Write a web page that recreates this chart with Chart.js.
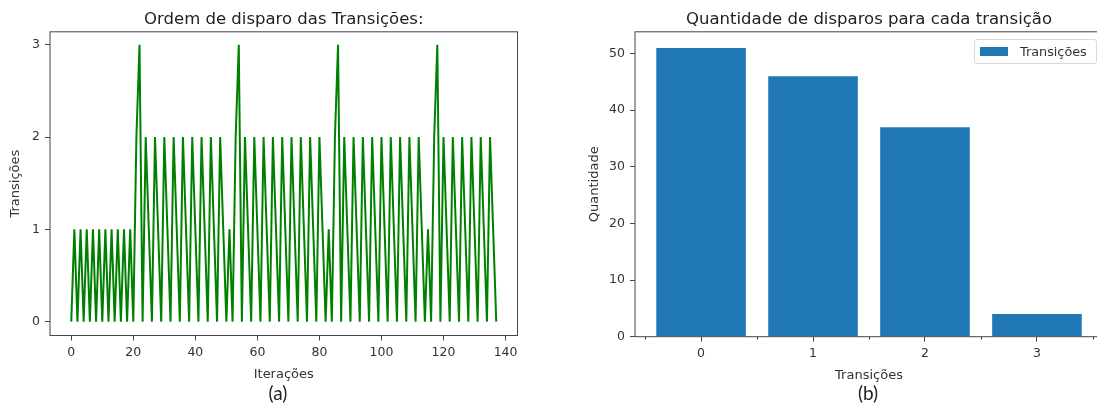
<!DOCTYPE html>
<html lang="pt">
<head>
<meta charset="UTF-8">
<title>Disparo das Transições</title>
<script src="https://cdn.jsdelivr.net/npm/chart.js"></script>
<style>
  html, body { margin: 0; padding: 0; background: #fff; overflow: hidden; }
  body { position: relative; width: 1097px; height: 406px; font-family: "DejaVu Sans", sans-serif; }
  canvas { position: absolute; top: 0; }
  #chartA { left: 0; }
  #chartB { left: 548px; }
  .caption {
    position: absolute; top: 392px; transform: translate(-50%, -50%);
    font-family: Lato, sans-serif; font-size: 19px; color: #222;
  }
  .legend {
    position: absolute; left: 974px; top: 39px; width: 123px; height: 25px;
    box-sizing: border-box; border: 1px solid #d9d9d9; border-radius: 3px;
    background: rgba(255,255,255,0.8); font-size: 12.8px; color: #333;
  }
  .legend .swatch { position: absolute; left: 5px; top: 7px; width: 28px; height: 9px; background: #1f77b4; }
  .legend .label { position: absolute; left: 45px; top: 4px; white-space: nowrap; }
</style>
</head>
<body>
  <canvas id="chartA" width="540" height="406"></canvas>
  <canvas id="chartB" width="570" height="406"></canvas>
  <div class="caption" style="left:278px">(a)</div>
  <div class="caption" style="left:868px">(b)</div>
  <div class="legend"><span class="swatch"></span><span class="label">Transições</span></div>

<script>
// (a) transição disparada em cada iteração
const firingOrder = [
  0, 1, 0, 1, 0, 1, 0, 1, 0, 1, 0, 1, 0, 1, 0, 1, 0, 1, 0, 1, 0,
  2, 3, 0,
  2, 1, 0, 2, 1, 0, 2, 1, 0, 2, 1, 0, 2, 1, 0, 2, 1, 0, 2, 1, 0, 2, 1, 0, 2, 1, 0,
  1, 0, 2, 3, 0,
  2, 1, 0, 2, 1, 0, 2, 1, 0, 2, 1, 0, 2, 1, 0, 2, 1, 0, 2, 1, 0, 2, 1, 0, 2, 1, 0,
  1, 0, 2, 3, 0,
  2, 1, 0, 2, 1, 0, 2, 1, 0, 2, 1, 0, 2, 1, 0, 2, 1, 0, 2, 1, 0, 2, 1, 0, 2, 1, 0,
  1, 0, 2, 3, 0,
  2, 1, 0, 2, 1, 0, 2, 1, 0, 2, 1, 0, 2, 1, 0, 2, 1, 0
];
const iterTicks = [0, 20, 40, 60, 80, 100, 120, 140];
const transTicks = [0, 1, 2, 3];

// (b) quantidade de disparos
const transitions = [0, 1, 2, 3];
const fireCounts = [51, 46, 37, 4];
const countTicks = [0, 10, 20, 30, 40, 50];

Chart.defaults.font.family = "'DejaVu Sans', sans-serif";
Chart.defaults.font.size = 12.5;
Chart.defaults.color = '#333';

const frame = {
  id: 'frame',
  afterDraw(chart) {
    const { ctx, chartArea: a } = chart;
    ctx.save();
    ctx.strokeStyle = '#444';
    ctx.lineWidth = 1;
    ctx.strokeRect(a.left, a.top, a.right - a.left, a.bottom - a.top);
    ctx.restore();
  }
};

// short marks halfway between the bars, as in the original
const halfTicks = {
  id: 'halfTicks',
  afterDraw(chart) {
    const { ctx, chartArea: a, scales: { x } } = chart;
    const pos = transitions.map(t => t - 0.5).concat([transitions[transitions.length - 1] + 0.5]);
    ctx.save();
    ctx.strokeStyle = '#444';
    ctx.lineWidth = 1;
    pos.forEach(v => {
      const px = Math.round(x.getPixelForValue(v)) + 0.5;
      ctx.beginPath();
      ctx.moveTo(px, a.bottom);
      ctx.lineTo(px, a.bottom + 3);
      ctx.stroke();
    });
    ctx.restore();
  }
};

function axis(extra) {
  return Object.assign({
    grid: { drawOnChartArea: false, drawTicks: true, tickLength: 5, color: '#444', offset: false },
    border: { display: false },
    ticks: { padding: 5, color: '#333' }
  }, extra);
}

function fixedTicks(values) {
  return s => { s.ticks = values.map(v => ({ value: v })); };
}

function axisTitle(text) {
  return { display: true, text: text, padding: 0, color: '#333', font: { size: 13 } };
}

function titleOpts(text) {
  return {
    display: true, text: text, fullSize: false, color: '#222',
    font: { size: 16.5, weight: 'normal' },
    padding: { top: 10, bottom: 2 }
  };
}

new Chart(document.getElementById('chartA'), {
  type: 'line',
  data: {
    datasets: [{
      data: firingOrder.map((v, i) => ({ x: i, y: v })),
      borderColor: 'green',
      borderWidth: 2,
      pointRadius: 0,
      tension: 0
    }]
  },
  options: {
    responsive: false,
    animation: false,
    layout: { padding: { left: 7.5, right: 22.5, top: 0, bottom: 23.5 } },
    plugins: {
      legend: { display: false },
      tooltip: { enabled: false },
      title: titleOpts('Ordem de disparo das Transições:')
    },
    scales: {
      x: axis({
        type: 'linear', min: -6.85, max: 143.85,
        afterBuildTicks: fixedTicks(iterTicks),
        afterFit: s => { s.height = 47; },
        title: axisTitle('Iterações')
      }),
      y: axis({
        min: -0.15, max: 3.14,
        afterBuildTicks: fixedTicks(transTicks),
        afterFit: s => { s.width = 42.5; },
        title: axisTitle('Transições')
      })
    }
  },
  plugins: [frame]
});

new Chart(document.getElementById('chartB'), {
  type: 'bar',
  data: {
    datasets: [{
      label: 'Transições',
      data: transitions.map((t, i) => ({ x: t, y: fireCounts[i] })),
      backgroundColor: '#1f77b4',
      categoryPercentage: 1,
      barPercentage: 0.8
    }]
  },
  options: {
    responsive: false,
    animation: false,
    layout: { padding: { left: 38.5, right: 15, top: 0, bottom: 22.9 } },
    plugins: {
      legend: { display: false },
      tooltip: { enabled: false },
      title: titleOpts('Quantidade de disparos para cada transição')
    },
    scales: {
      x: axis({
        type: 'linear', min: -0.59, max: 3.59, offset: false,
        afterBuildTicks: fixedTicks(transitions),
        afterFit: s => { s.height = 46.4; },
        title: axisTitle('Transições')
      }),
      y: axis({
        min: 0, max: 53.85,
        afterBuildTicks: fixedTicks(countTicks),
        afterFit: s => { s.width = 48.5; },
        title: axisTitle('Quantidade')
      })
    }
  },
  plugins: [frame, halfTicks]
});
</script>
</body>
</html>
